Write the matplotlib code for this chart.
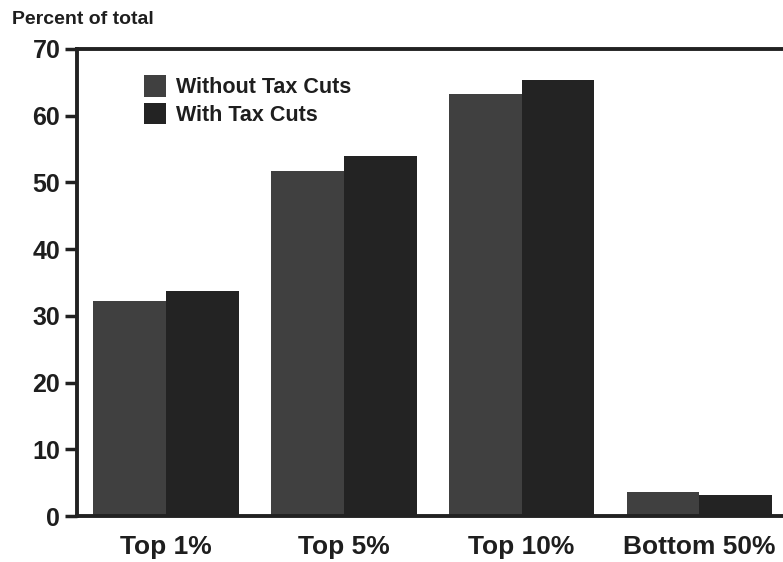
import numpy as np
import matplotlib.pyplot as plt
from matplotlib.patches import Patch

categories = ["Top 1%", "Top 5%", "Top 10%", "Bottom 50%"]
without_cuts = [32.2, 51.7, 63.2, 3.6]
with_cuts = [33.7, 54.0, 65.3, 3.1]
yticks = [0, 10, 20, 30, 40, 50, 60, 70]

plt.rcParams['font.family'] = ['Liberation Sans', 'DejaVu Sans']
plt.rcParams['font.weight'] = 'bold'

fig = plt.figure(figsize=(7.83, 5.62), dpi=100)
W, H = 783, 562
ax = fig.add_axes([77 / W, (H - 516) / H, (783 - 77) / W, (516 - 49) / H])

x = np.arange(len(categories))
w = 0.41
ax.bar(x - w / 2, without_cuts, w, color='#404040', linewidth=0)
ax.bar(x + w / 2, with_cuts, w, color='#232323', linewidth=0)

ax.set_xlim(-0.5, 3.47)
ax.set_ylim(0, 70)
ax.set_yticks(yticks)
ax.set_yticklabels([str(t) for t in yticks], fontsize=18, fontweight='bold',
                   color='#1e1e1e')
ax.set_xticks(x)
ax.set_xticklabels(categories, fontsize=19, fontweight='bold', color='#1e1e1e')
ax.tick_params(axis='x', length=0, pad=14)
ax.tick_params(axis='y', length=9, width=2.5, pad=3, color='#222222')

for s in ['left', 'bottom', 'top']:
    ax.spines[s].set_linewidth(2.8)
    ax.spines[s].set_color('#222222')
ax.spines['right'].set_visible(False)

handles = [Patch(facecolor='#404040'), Patch(facecolor='#232323')]
ax.legend(handles, ["Without Tax Cuts", "With Tax Cuts"], loc='upper left',
          bbox_to_anchor=(0.068, 0.985), frameon=False,
          prop={'weight': 'bold', 'size': 15.5}, handlelength=1.0,
          handleheight=1.15, handletextpad=0.45, labelspacing=0.2,
          labelcolor='#1e1e1e')

fig.text(12 / W, 1 - 20 / H, "Percent of total", fontsize=14,
         fontweight='bold', va='center', ha='left', color='#1e1e1e')

fig.savefig('out.png', dpi=100)
